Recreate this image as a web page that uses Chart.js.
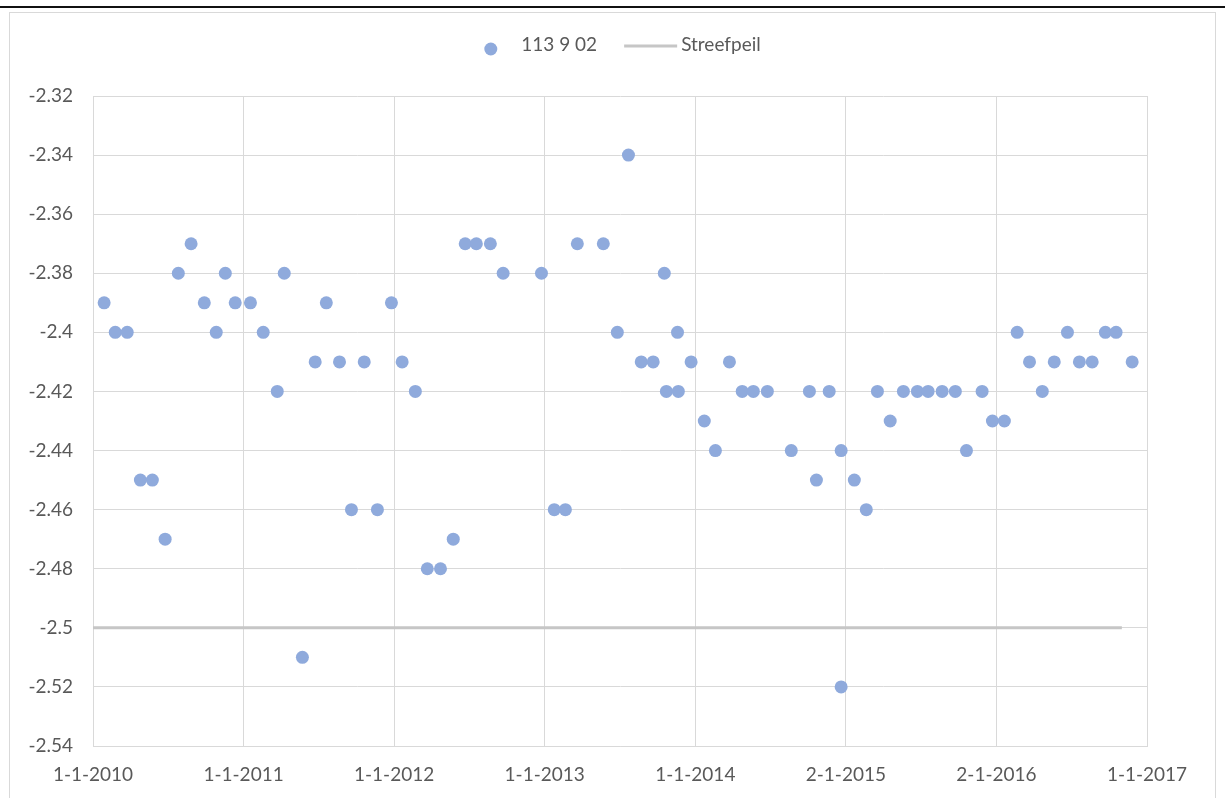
<!DOCTYPE html>
<html>
<head>
<meta charset="utf-8">
<script src="https://cdn.jsdelivr.net/npm/chart.js@4/dist/chart.umd.min.js"></script>
<style>
  html, body { margin: 0; padding: 0; background: #fff; overflow: hidden; }
  body { width: 1225px; height: 798px; position: relative; }
  #topline { position: absolute; left: 0; top: 6px; width: 1225px; height: 2px; background: #111; }
  #frame { position: absolute; left: 9px; top: 12px; width: 1205px; height: 800px; border: 1px solid #d9d9d9; }
  #chartBox { position: absolute; left: 0; top: 0; width: 1205px; height: 785px; }
</style>
</head>
<body>
<div id="topline"></div>
<div id="frame">
  <div id="chartBox"><canvas id="mainChart"></canvas></div>
</div>
<script>
var measureDates = [
  '2010-01-28', '2010-02-24', '2010-03-25', '2010-04-26', '2010-05-25', '2010-06-25',
  '2010-07-27', '2010-08-27', '2010-09-28', '2010-10-27', '2010-11-18', '2010-12-12',
  '2011-01-18', '2011-02-18', '2011-03-24', '2011-04-10', '2011-05-24', '2011-06-24',
  '2011-07-21', '2011-08-22', '2011-09-20', '2011-10-21', '2011-11-22', '2011-12-26',
  '2012-01-21', '2012-02-22', '2012-03-22', '2012-04-23', '2012-05-24', '2012-06-22',
  '2012-07-19', '2012-08-22', '2012-09-22', '2012-12-24',
  '2013-01-24', '2013-02-20', '2013-03-21', '2013-05-23', '2013-06-26', '2013-07-23',
  '2013-08-23', '2013-09-21', '2013-10-18', '2013-10-23', '2013-11-19', '2013-11-21',
  '2013-12-22',
  '2014-01-23', '2014-02-19', '2014-03-25', '2014-04-25', '2014-05-22', '2014-06-25',
  '2014-08-22', '2014-10-05', '2014-10-22', '2014-11-22', '2014-12-21', '2014-12-21',
  '2015-01-22', '2015-02-20', '2015-03-19', '2015-04-19', '2015-05-21', '2015-06-24',
  '2015-07-20', '2015-08-23', '2015-09-24', '2015-10-21', '2015-11-28', '2015-12-23',
  '2016-01-21', '2016-02-21', '2016-03-22', '2016-04-22', '2016-05-21', '2016-06-22',
  '2016-07-21', '2016-08-21', '2016-09-22', '2016-10-18', '2016-11-26'
]
var measureLevels = [
  -2.39, -2.40, -2.40, -2.45, -2.45, -2.47,
  -2.38, -2.37, -2.39, -2.40, -2.38, -2.39,
  -2.39, -2.40, -2.42, -2.38, -2.51, -2.41,
  -2.39, -2.41, -2.46, -2.41, -2.46, -2.39,
  -2.41, -2.42, -2.48, -2.48, -2.47, -2.37,
  -2.37, -2.37, -2.38, -2.38,
  -2.46, -2.46, -2.37, -2.37, -2.40, -2.34,
  -2.41, -2.41, -2.38, -2.42, -2.40, -2.42,
  -2.41,
  -2.43, -2.44, -2.41, -2.42, -2.42, -2.42,
  -2.44, -2.42, -2.45, -2.42, -2.44, -2.52,
  -2.45, -2.46, -2.42, -2.43, -2.42, -2.42,
  -2.42, -2.42, -2.42, -2.44, -2.42, -2.43,
  -2.43, -2.40, -2.41, -2.42, -2.41, -2.40,
  -2.41, -2.41, -2.40, -2.40, -2.41
]

// target level
var streefpeilDates = ['2010-01-01', '2016-11-01']
var streefpeilLevels = [-2.5, -2.5]

// axis
var xTickLabels = ['1-1-2010', '1-1-2011', '1-1-2012', '1-1-2013', '1-1-2014', '2-1-2015', '2-1-2016', '1-1-2017']
var xStart = '2010-01-01'
var xEnd = '2017-01-01'
var yMin = -2.54
var yMax = -2.32
var yStep = 0.02

var seriesLabels = ['113 9 02', 'Streefpeil']

var textColor = '#595959'
var gridColor = '#d9d9d9'
var fontFamily = 'Lato, "Open Sans", sans-serif'

// days since the start of the axis
function dayOf (str) {
  var p = str.split('-')
  var base = xStart.split('-')
  var t = Date.UTC(+p[0], +p[1] - 1, +p[2])
  var t0 = Date.UTC(+base[0], +base[1] - 1, +base[2])
  return Math.round((t - t0) / 86400000)
}

function toPoints (dates, levels) {
  var pts = []
  for (var i = 0; i < dates.length; i++) {
    pts.push({ x: dayOf(dates[i]), y: levels[i] })
  }
  return pts
}

// excel style legend drawn at the top
var legendPlugin = {
  id: 'excelLegend',
  afterDraw: function (chart) {
    var ctx = chart.ctx
    var sets = chart.data.datasets
    var symW = 53
    var gap = 4
    var itemGap = 27
    ctx.save()
    ctx.font = '19px ' + fontFamily
    var widths = []
    var total = 0
    for (var i = 0; i < sets.length; i++) {
      widths.push(ctx.measureText(sets[i].label).width)
      total += symW + gap + widths[i]
    }
    total += itemGap * (sets.length - 1)
    var x = chart.width / 2 - total / 2
    var yText = 32
    for (var j = 0; j < sets.length; j++) {
      var ds = sets[j]
      if (ds.showLine) {
        ctx.strokeStyle = ds.borderColor
        ctx.lineWidth = ds.borderWidth
        ctx.beginPath()
        ctx.moveTo(x, yText + 1)
        ctx.lineTo(x + symW, yText + 1)
        ctx.stroke()
      } else {
        ctx.fillStyle = ds.backgroundColor
        ctx.beginPath()
        ctx.arc(x + symW / 2, yText + 4, ds.pointRadius, 0, Math.PI * 2)
        ctx.fill()
      }
      ctx.fillStyle = textColor
      ctx.textBaseline = 'middle'
      ctx.textAlign = 'left'
      ctx.fillText(ds.label, x + symW + gap, yText)
      x += symW + gap + widths[j] + itemGap
    }
    ctx.restore()
  }
}

var ctx = document.getElementById('mainChart').getContext('2d')

new Chart(ctx, {
  type: 'scatter',
  data: {
    datasets: [
      {
        label: seriesLabels[0],
        data: toPoints(measureDates, measureLevels),
        backgroundColor: '#8faadc',
        borderWidth: 0,
        pointRadius: 6.5,
        pointHoverRadius: 6.5,
        showLine: false,
        order: 1
      },
      {
        label: seriesLabels[1],
        data: toPoints(streefpeilDates, streefpeilLevels),
        borderColor: '#c6c6c6',
        backgroundColor: '#c6c6c6',
        borderWidth: 3,
        pointRadius: 0,
        showLine: true,
        order: 2
      }
    ]
  },
  options: {
    responsive: true,
    maintainAspectRatio: false,
    animation: false,
    layout: { padding: { left: 0, top: 83, right: 68, bottom: 0 } },
    plugins: {
      legend: { display: false },
      tooltip: { enabled: false }
    },
    scales: {
      x: {
        type: 'linear',
        min: dayOf(xStart),
        max: dayOf(xEnd),
        afterBuildTicks: function (scale) {
          var n = xTickLabels.length
          var ticks = []
          for (var i = 0; i < n; i++) {
            ticks.push({ value: scale.min + i * (scale.max - scale.min) / (n - 1) })
          }
          scale.ticks = ticks
        },
        afterFit: function (scale) { scale.height = 52 },
        grid: { color: gridColor, lineWidth: 1, drawTicks: false },
        border: { color: gridColor, width: 1 },
        ticks: {
          padding: 17,
          maxRotation: 0,
          autoSkip: false,
          color: textColor,
          font: { family: fontFamily, size: 19 },
          callback: function (value, index) { return xTickLabels[index] }
        }
      },
      y: {
        min: yMin,
        max: yMax,
        afterFit: function (scale) { scale.width = 83 },
        grid: { color: gridColor, lineWidth: 1, drawTicks: false },
        border: { color: gridColor, width: 1 },
        ticks: {
          stepSize: yStep,
          padding: 20,
          color: textColor,
          font: { family: fontFamily, size: 19 },
          callback: function (value) { return String(parseFloat(value.toFixed(2))) }
        }
      }
    }
  },
  plugins: [legendPlugin]
})
</script>
</body>
</html>
